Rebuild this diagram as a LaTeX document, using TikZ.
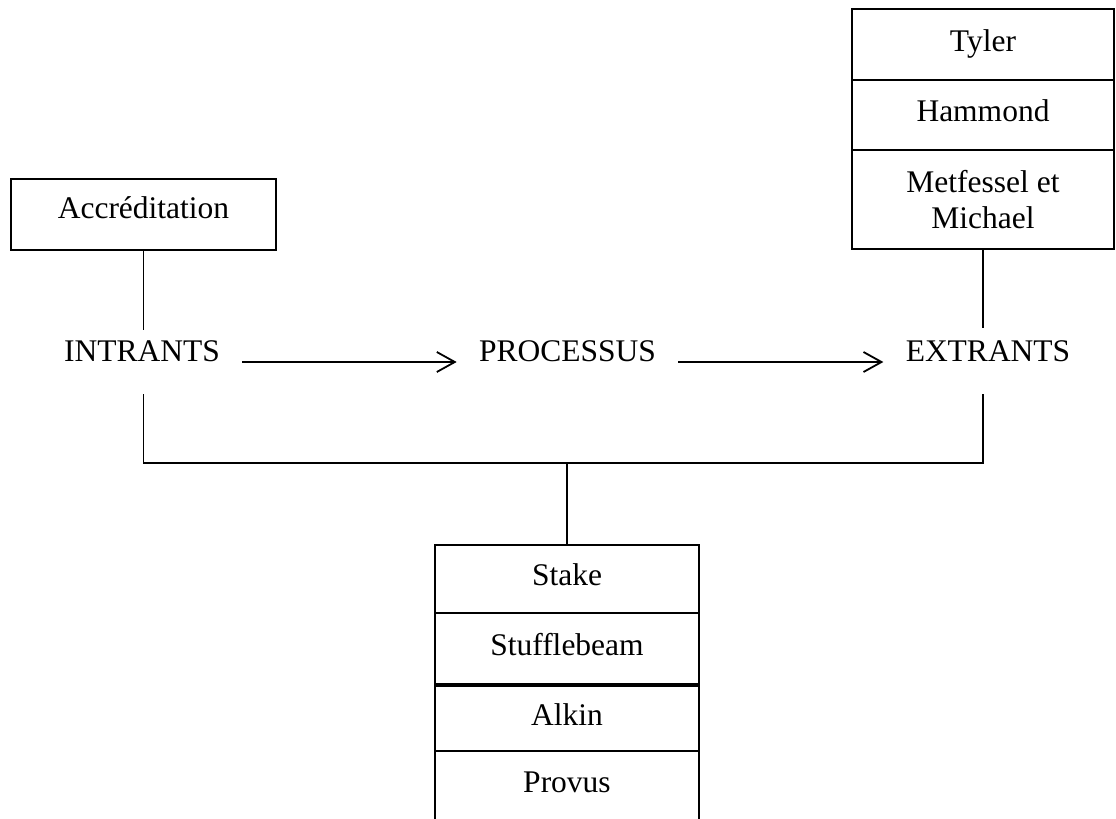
\documentclass[tikz,border=0pt]{standalone}
\usepackage{fontspec}
\setmainfont{Liberation Serif}
\usetikzlibrary{positioning,arrows.meta}

\begin{document}
\begin{tikzpicture}[x=0.5pt, y=-0.5pt,
    font=\fontsize{15.75}{18}\selectfont,
    cell/.style={draw, line width=1.2pt, inner sep=0pt, outer sep=0pt, align=center},
    caps/.style={text height=0.66em, text depth=0pt},
    stage/.style={caps, inner xsep=11pt, inner ysep=0pt},
    link/.style={line width=0.9pt},
    flow/.style={line width=0.9pt, -{Straight Barb[length=9pt, width=10pt, line width=0.9pt]}}]
\clip (0,0) rectangle (1116,819);

% left box
\node[cell, caps, text depth=3pt, minimum width=132.5pt, minimum height=35.5pt] (accred) at (143.5,214.5) {Accréditation};

% right stack
\node[cell, caps, minimum width=131pt, minimum height=35.5pt] (tyler) at (983,44.5) {Tyler};
\node[cell, caps, minimum width=131pt, minimum height=35pt] (hammond) at (983,115) {Hammond};
\node[cell, minimum width=131pt, minimum height=49.5pt] (metfessel) at (983,199.5) {Metfessel et\\Michael};

% bottom stack
\node[cell, caps, minimum width=132pt, minimum height=34pt] (stake) at (567,579) {Stake};
\node[cell, caps, minimum width=132pt, minimum height=35.5pt] (stuffle) at (567,648.5) {Stufflebeam};
\node[cell, caps, minimum width=132pt, minimum height=32.5pt] (alkin) at (567,718.5) {Alkin};
\node[cell, minimum width=132pt, text height=20.5pt, text depth=19pt, anchor=north] (provus) at (alkin.south) {Provus};

% stages
\node[stage] (intrants) at (142,355) {INTRANTS};
\node[stage] (processus) at (567.5,355) {PROCESSUS};
\node[stage] (extrants) at (988,355) {EXTRANTS};

% connectors
\draw[link] (accred) -- ([yshift=9pt]accred.south |- intrants.north);
\draw[link] (metfessel) -- ([yshift=10pt]metfessel.south |- extrants.north);
\coordinate (junction) at (567,463);
\draw[link] ([yshift=-16pt]accred.south |- intrants.south) |- (junction)
    -| ([yshift=-16pt]metfessel.south |- extrants.south);
\draw[link] (junction) -- (stake);

\draw[flow] ([yshift=-3.5pt]intrants.east) -- ([yshift=-3.5pt]processus.west);
\draw[flow] ([yshift=-3.5pt]processus.east) -- ([yshift=-3.5pt]extrants.west);
\end{tikzpicture}
\end{document}
